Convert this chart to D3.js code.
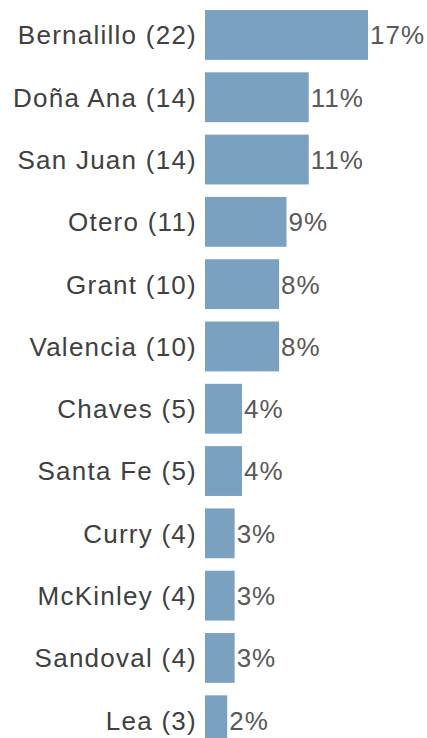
<!DOCTYPE html>
<html>
<head>
<meta charset="utf-8">
<script src="https://cdn.jsdelivr.net/npm/d3@7"></script>
<style>
  body { margin: 0; background: #fff; }
  svg { display: block; }
</style>
</head>
<body>
<svg width="427" height="738"></svg>
<script>
var counties = ['Bernalillo', 'Doña Ana', 'San Juan', 'Otero', 'Grant', 'Valencia',
  'Chaves', 'Santa Fe', 'Curry', 'McKinley', 'Sandoval', 'Lea'];
var counts = [22, 14, 14, 11, 10, 10, 5, 5, 4, 4, 4, 3];
var pcts = [17, 11, 11, 9, 8, 8, 4, 4, 3, 3, 3, 2];

var rows = counties.map(function(c, i) {
  return { name: c, n: counts[i], pct: pcts[i] };
});

var svg = d3.select('svg');

var x = d3.scaleLinear()
  .domain([0, 22])
  .range([205, 368]);

var y = d3.scaleBand()
  .domain(counties)
  .range([3.8, 751.4])
  .paddingInner(0.2)
  .paddingOuter(0.1);

var font = '"Liberation Sans", Arial, sans-serif';

var row = svg.selectAll('g.row')
  .data(rows).enter().append('g')
  .classed('row', true);

row.append('rect')
  .attr('x', x(0))
  .attr('y', function(d) { return y(d.name); })
  .attr('width', function(d) { return x(d.n) - x(0); })
  .attr('height', y.bandwidth())
  .attr('fill', '#7aa2c0');

// county label, right aligned against the bars
row.append('text')
  .attr('x', 197)
  .attr('y', function(d) { return y(d.name) + y.bandwidth() / 2; })
  .attr('dy', '0.36em')
  .attr('text-anchor', 'end')
  .style('font-family', font)
  .style('font-size', '26px')
  .style('letter-spacing', '1.25px')
  .style('fill', '#404040')
  .text(function(d) { return d.name + ' (' + d.n + ')'; });

// percent after the bar
row.append('text')
  .attr('x', function(d) { return x(d.n) + 2; })
  .attr('y', function(d) { return y(d.name) + y.bandwidth() / 2; })
  .attr('dy', '0.36em')
  .style('font-family', font)
  .style('font-size', '26px')
  .style('letter-spacing', '1px')
  .style('fill', '#595959')
  .text(function(d) { return d.pct + '%'; });
</script>
</body>
</html>
